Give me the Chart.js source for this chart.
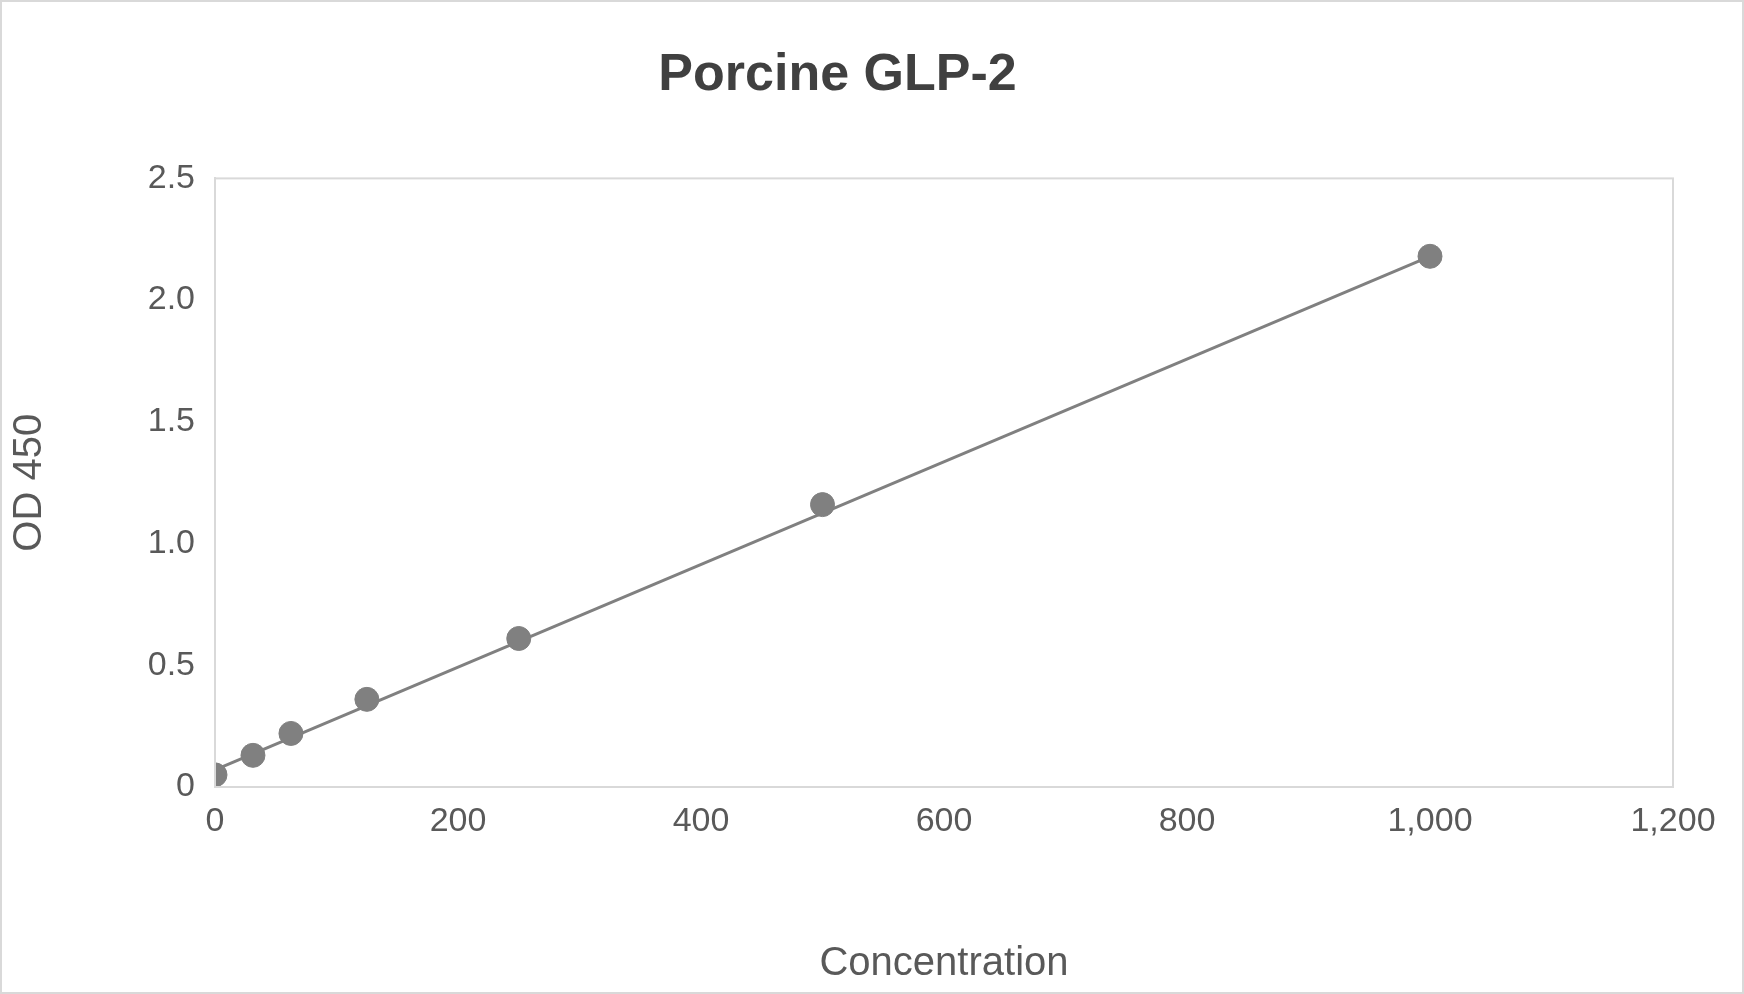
<!DOCTYPE html>
<html><head><meta charset="utf-8">
<script src="https://cdn.jsdelivr.net/npm/chart.js@4/dist/chart.umd.min.js"></script>
<style>
html,body{margin:0;padding:0;background:#fff}
#wrap{width:1744px;height:994px;box-sizing:border-box;border:2px solid #d9d9d9;overflow:hidden}
#wrap canvas{display:block}
</style></head>
<body><div id="wrap"><canvas id="c" width="1740" height="990" style="width:1740px;height:990px"></canvas></div>
<script>
// standard curve readings
const concentration = [0, 31.25, 62.5, 125, 250, 500, 1000];
const od450 = [0.05, 0.13, 0.22, 0.36, 0.61, 1.16, 2.18];
const fitX = [0, 1000];
const fitY = [0.07, 2.18];

const grey = '#808080';
const txt = '#595959';

new Chart(document.getElementById('c'), {
  type: 'scatter',
  data: {
    datasets: [
      {
        label: 'Fit',
        data: fitX.map((x, i) => ({x, y: fitY[i]})),
        showLine: true, borderColor: grey, borderWidth: 3, pointRadius: 0
      },
      {
        label: 'OD 450',
        data: concentration.map((x, i) => ({x, y: od450[i]})),
        backgroundColor: grey, borderColor: grey, pointRadius: 12
      }
    ]
  },
  options: {
    responsive: false,
    animation: false,
    devicePixelRatio: 1,
    layout: {padding: {right: 69, top: 0, bottom: 0, left: 0}},
    plugins: {
      legend: {display: false},
      tooltip: {enabled: false},
      title: {
        display: true, text: 'Porcine GLP-2', color: '#404040',
        font: {family: 'Arial, Liberation Sans', size: 52, weight: 'bold'},
        padding: {top: 42, bottom: 72}
      }
    },
    scales: {
      x: {
        min: 0, max: 1200,
        ticks: {stepSize: 200, color: txt, padding: 14, font: {family: 'Arial, Liberation Sans', size: 34}},
        grid: {display: false, drawTicks: false},
        border: {color: '#d9d9d9', width: 2},
        title: {display: true, text: 'Concentration', color: txt, padding: {top: 16},
          font: {family: 'Arial, Liberation Sans', size: 40}},
        afterFit: s => { s.height = 205; }
      },
      y: {
        min: 0, max: 2.5,
        ticks: {stepSize: 0.5, color: txt, padding: 20, font: {family: 'Arial, Liberation Sans', size: 34}},
        grid: {display: false, drawTicks: false},
        border: {color: '#d9d9d9', width: 2},
        title: {display: true, text: 'OD 450', color: txt, padding: {bottom: 20},
          font: {family: 'Arial, Liberation Sans', size: 40}},
        afterFit: s => { s.width = 213; }
      }
    }
  },
  plugins: [{
    id: 'box',
    afterDraw(c) {
      const a = c.chartArea, g = c.ctx;
      g.save(); g.strokeStyle = '#d9d9d9'; g.lineWidth = 2;
      g.strokeRect(a.left, a.top, a.right - a.left, a.bottom - a.top);
      g.restore();
    }
  }]
});
</script></body></html>
